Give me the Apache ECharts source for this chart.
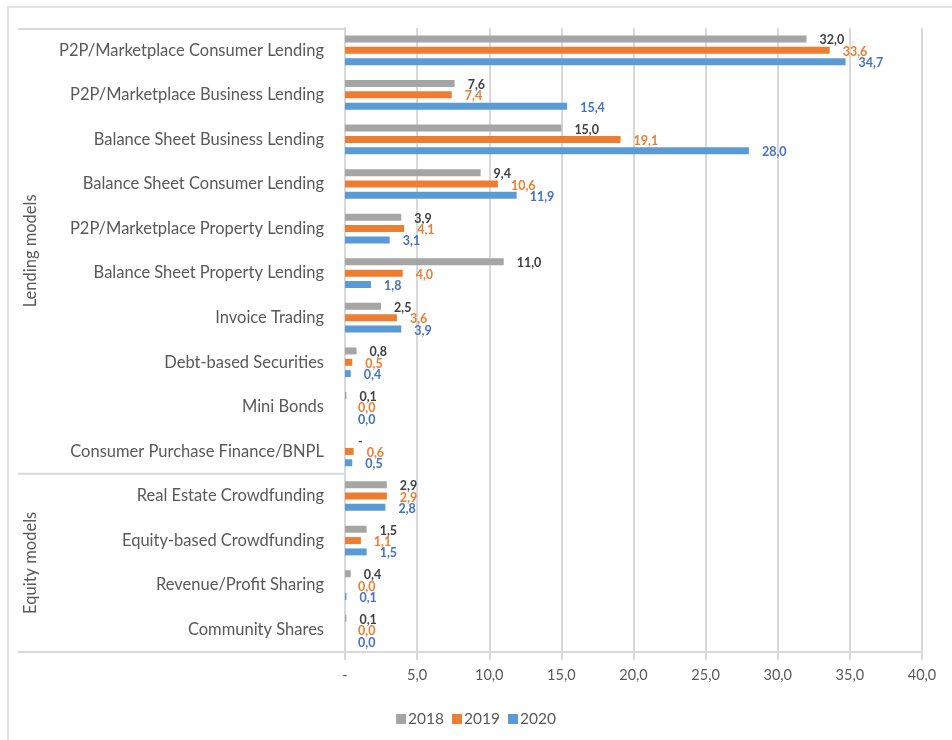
<!DOCTYPE html>
<html>
<head>
<meta charset="utf-8">
<script src="https://cdn.jsdelivr.net/npm/echarts@6/dist/echarts.min.js"></script>
<style>
  html, body { margin: 0; padding: 0; background: #ffffff; }
  #chart { width: 952px; height: 740px; }
</style>
</head>
<body>
<div id="chart"></div>
<script>
// Alternative finance volumes by business model
const categories = [
  'P2P/Marketplace Consumer Lending',
  'P2P/Marketplace Business Lending',
  'Balance Sheet Business Lending',
  'Balance Sheet Consumer Lending',
  'P2P/Marketplace Property Lending',
  'Balance Sheet Property Lending',
  'Invoice Trading',
  'Debt-based Securities',
  'Mini Bonds',
  'Consumer Purchase Finance/BNPL',
  'Real Estate Crowdfunding',
  'Equity-based Crowdfunding',
  'Revenue/Profit Sharing',
  'Community Shares'
];
const years = ['2018', '2019', '2020'];
// null = no value reported (shown as "-")
const values2018 = [32.0, 7.6, 15.0, 9.4, 3.9, 11.0, 2.5, 0.8, 0.1, null, 2.9, 1.5, 0.4, 0.1];
const values2019 = [33.6, 7.4, 19.1, 10.6, 4.1, 4.0, 3.6, 0.5, 0.0, 0.6, 2.9, 1.1, 0.0, 0.0];
const values2020 = [34.7, 15.4, 28.0, 11.9, 3.1, 1.8, 3.9, 0.4, 0.0, 0.5, 2.8, 1.5, 0.1, 0.0];
const groups = [
  { name: 'Lending models', from: 0, to: 9 },
  { name: 'Equity models', from: 10, to: 13 }
];
const axisTicks = [0, 5, 10, 15, 20, 25, 30, 35, 40];

const barColors = ['#A5A5A5', '#ED7D31', '#5B9BD5'];
const labelColors = ['#404040', '#ED7D31', '#4472C4'];
const textColor = '#595959';
const lineColor = '#D9D9D9';
const FONT = 'Lato, "Open Sans", sans-serif';

const GRID = { left: 345, right: 30, top: 28, bottom: 88 };
const W = 952, H = 740;
const plotH = H - GRID.top - GRID.bottom;
const band = plotH / categories.length;

function fmt(v) {
  return v === 0 ? '-' : v.toFixed(1).replace('.', ',');
}
function fmtLabel(v) {
  return v.toFixed(1).replace('.', ',');
}

function buildData(arr) {
  return arr.map(v => v === null
    ? { value: 0, label: { formatter: '-' } }
    : v);
}

const seriesValues = [values2018, values2019, values2020];
const series = years.map((y, i) => ({
  name: y,
  type: 'bar',
  data: buildData(seriesValues[i]),
  barWidth: 7,
  barGap: '62%',
  itemStyle: { color: barColors[i] },
  label: {
    show: true,
    position: 'right',
    distance: 13,
    offset: [0, 1.5],
    color: labelColors[i],
    fontFamily: FONT,
    fontWeight: 'bold',
    fontSize: 12.5,
    formatter: p => fmtLabel(p.value)
  }
}));

// category table borders and group captions on the left
const graphics = [
  { type: 'rect', shape: { x: 8, y: 7, width: 1000, height: 800 },
    style: { fill: 'none', stroke: '#E3E3E3', lineWidth: 2 }, silent: true },
  { type: 'line', shape: { x1: 18, y1: GRID.top + 1, x2: GRID.left, y2: GRID.top + 1 },
    style: { stroke: lineColor, lineWidth: 2 }, silent: true }
];
groups.forEach(g => {
  const yEnd = GRID.top + band * (g.to + 1);
  graphics.push({ type: 'line', shape: { x1: 18, y1: yEnd, x2: GRID.left, y2: yEnd },
    style: { stroke: lineColor, lineWidth: 2 }, silent: true });
  const yMid = GRID.top + band * (g.from + g.to + 1) / 2;
  graphics.push({
    type: 'text', x: 31, y: yMid, rotation: Math.PI / 2,
    style: { text: g.name, fill: textColor, font: '16.5px ' + FONT,
             align: 'center', verticalAlign: 'middle' },
    silent: true
  });
});

const chart = echarts.init(document.getElementById('chart'), null, { renderer: 'canvas' });
chart.setOption({
  animation: false,
  backgroundColor: '#ffffff',
  textStyle: { fontFamily: FONT },
  grid: GRID,
  legend: {
    data: years,
    left: 'center',
    top: 706,
    icon: 'rect',
    itemWidth: 10,
    itemHeight: 10,
    itemGap: 8,
    textStyle: { color: textColor, fontSize: 15.5, fontFamily: FONT, padding: [0, 0, 0, -3] }
  },
  xAxis: {
    type: 'value',
    min: axisTicks[0],
    max: axisTicks[axisTicks.length - 1],
    interval: axisTicks[1] - axisTicks[0],
    axisLine: { show: true, lineStyle: { color: lineColor, width: 2 } },
    axisTick: { show: true, length: 8, lineStyle: { color: lineColor, width: 2 } },
    splitLine: { show: true, lineStyle: { color: lineColor, width: 2 } },
    axisLabel: { color: textColor, fontSize: 14.5, fontFamily: FONT, margin: 16, formatter: fmt }
  },
  yAxis: {
    type: 'category',
    data: categories,
    inverse: true,
    axisLine: { show: true, lineStyle: { color: lineColor, width: 2 } },
    axisTick: { show: false },
    axisLabel: { color: textColor, fontSize: 16.5, fontFamily: FONT, margin: 21 }
  },
  series: series,
  graphic: graphics
});
</script>
</body>
</html>
